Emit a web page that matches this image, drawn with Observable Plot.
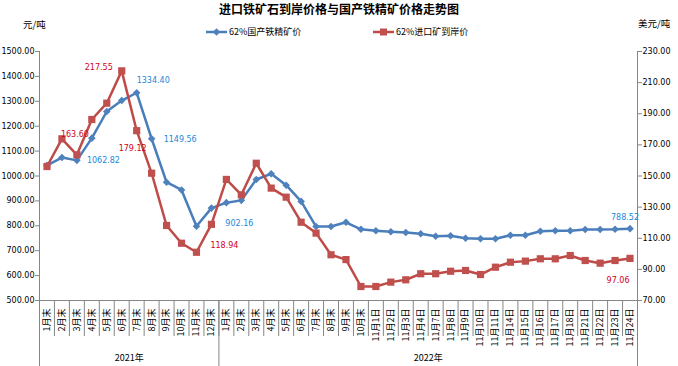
<!DOCTYPE html>
<html><head><meta charset="utf-8">
<script src="https://cdn.jsdelivr.net/npm/d3@7"></script>
<script src="https://cdn.jsdelivr.net/npm/@observablehq/plot@0.6"></script>
<style>
body{margin:0;background:#fff;}
#wrap{position:relative;width:678px;height:366px;overflow:hidden;font-family:"Noto Sans CJK SC",sans-serif;color:#000;}
#wrap svg.chart{position:absolute;left:0;top:0;}
.t{position:absolute;white-space:nowrap;line-height:1;}
</style></head><body><div id="wrap"></div>
<script>
// ---- data ----
const title = "进口铁矿石到岸价格与国产铁精矿价格走势图";
const leftUnit = "元/吨";
const rightUnit = "美元/吨";
const seriesNames = ["62%国产铁精矿价", "62%进口矿到岸价"];
const months2021 = ["1月末","2月末","3月末","4月末","5月末","6月末","7月末","8月末","9月末","10月末","11月末","12月末"];
const months2022 = ["1月末","2月末","3月末","4月末","5月末","6月末","7月末","8月末","9月末","10月末"];
const novDays2022 = ["11月1日","11月2日","11月3日","11月4日","11月7日","11月8日","11月9日","11月10日","11月11日","11月14日","11月15日","11月16日","11月17日","11月18日","11月21日","11月22日","11月23日","11月24日"];
const yearLabels = ["2021年","2022年"];
const categories = [...months2021, ...months2022, ...novDays2022];
const yearCounts = [months2021.length, months2022.length + novDays2022.length];
// 62% domestic concentrate, 元/吨 (left axis)
const domestic = [1043,1074,1062.82,1152,1259,1303,1334.40,1149.56,975,944,798,871,
  893,902.16,986,1009,963,898,797,797,814,786,
  780,776,773,768,758,760,750,748,748,762,762,778,780,780,785,785,786,788.52];
// 62% imported CIF, 美元/吨 (right axis)
const imported = [156.1,173.9,163.60,186.3,196.8,217.55,179.12,151.8,118.2,106.8,101,118.94,
  147.8,137.9,158.2,142.2,136.4,120.3,113.3,99.4,96.3,79.0,
  79.0,81.8,83.3,87.2,87.2,88.8,89.3,86.7,91.4,94.6,95.3,96.8,96.8,98.9,95.7,94.0,95.7,97.06];
const leftTicks = [500,600,700,800,900,1000,1100,1200,1300,1400,1500];
const rightTicks = [70,90,110,130,150,170,190,210,230];
// labelled points (category index)
const domesticLabelIdx = [2,6,7,13,39];
const importedLabelIdx = [2,5,6,11,39];

// ---- layout ----
const W = 678, H = 366, mT = 51, mB = 66, mL = 39, mR = 41;
const yMin = leftTicks[0], yMax = leftTicks[leftTicks.length-1];
const rMin = rightTicks[0], rMax = rightTicks[rightTicks.length-1];
const toLeft = v => yMin + (v - rMin) * (yMax - yMin) / (rMax - rMin);
const fromLeft = v => rMin + (v - yMin) * (rMax - rMin) / (yMax - yMin);
const pxPerUnit = (H - mT - mB) / (yMax - yMin);
const below = px => yMin - px / pxPerUnit;
const bw = (W - mL - mR) / categories.length;

const idx = d3.range(categories.length);
const rows = idx.map(i => ({i, dom: domestic[i], imp: toLeft(imported[i]), impRaw: imported[i]}));

const diamond = {draw(ctx, size){ const r = Math.sqrt(size/Math.PI); ctx.moveTo(0,-r); ctx.lineTo(r,0); ctx.lineTo(0,r); ctx.lineTo(-r,0); ctx.closePath(); }};
const square = {draw(ctx, size){ const r = Math.sqrt(size/Math.PI); ctx.rect(-r,-r,2*r,2*r); }};

const blueLine = "#4A7EBB", blueMark = "#4F81BD", blueText = "#1C87DA";
const redLine = "#BE4B48", redMark = "#C0504D", redText = "#D0021B";
const gray = "#868686";
const numFont = "DejaVu Sans, sans-serif";

// year boundaries
let acc = 0; const yearInfo = yearCounts.map((c, k) => { const s = acc; acc += c; return {k, start: s, end: s + c - 1, mid: s + c/2 - 1}; });

const blueLabelPos = {2:{dx:10,dy:0,a:"start"}, 6:{dx:0,dy:-12,a:"start"}, 7:{dx:12,dy:1,a:"start"}, 13:{dx:-2,dy:23,a:"middle"}, 39:{dx:-5,dy:-11,a:"middle"}};
const redLabelPos = {2:{dx:-2,dy:-20,a:"middle"}, 5:{dx:-9,dy:-3,a:"end"}, 6:{dx:-4,dy:18,a:"middle"}, 11:{dx:13,dy:21,a:"middle"}, 39:{dx:-12,dy:22,a:"middle"}};

const labelMarks = [];
for (const i of domesticLabelIdx) {
  const p = blueLabelPos[i];
  labelMarks.push(Plot.text([rows[i]], {x: "i", y: "dom", text: d => d.dom.toFixed(2), dx: p.dx, dy: p.dy, textAnchor: p.a, fill: blueText, fontSize: 8, fontFamily: numFont}));
}
for (const i of importedLabelIdx) {
  const p = redLabelPos[i];
  labelMarks.push(Plot.text([rows[i]], {x: "i", y: "imp", text: d => d.impRaw.toFixed(2), dx: p.dx, dy: p.dy, textAnchor: p.a, fill: redText, fontSize: 8, fontFamily: numFont}));
}

const chart = Plot.plot({
  width: W, height: H, marginTop: mT, marginBottom: mB, marginLeft: mL, marginRight: mR,
  style: {background: "transparent", fontFamily: numFont, fontSize: "8px", color: "#000", overflow: "visible"},
  x: {type: "band", domain: idx, padding: 0, align: 0.5, axis: null, label: null},
  y: {domain: [yMin, yMax], axis: null, label: null},
  marks: [
    // category separators below the axis
    Plot.ruleX(idx, {x: d => d, dx: bw/2, y1: yMin, y2: below(36), stroke: gray, strokeWidth: 1}),
    Plot.ruleX(yearInfo, {x: d => d.end, dx: bw/2, y1: yMin, y2: below(70), stroke: gray, strokeWidth: 1}),
    Plot.ruleX(yearInfo.slice(0,1), {x: d => d.start, dx: -bw/2, y1: yMin, y2: below(70), stroke: gray, strokeWidth: 1}),
    Plot.text(yearInfo, {x: d => d.mid, dx: bw/2, y: below(58), text: d => yearLabels[d.k], fontSize: 9, fontFamily: "Noto Sans CJK SC, sans-serif", fill: "#000"}),
    Plot.axisX({tickFormat: i => categories[i], tickRotate: -90, tickSize: 0, tickPadding: 8, label: null, fontSize: 9, fontFamily: "Noto Sans CJK SC, sans-serif", fill: "#000"}),
    Plot.axisY(leftTicks, {anchor: "left", tickFormat: d => d.toFixed(2), tickSize: 4, tickPadding: 1, label: null, stroke: gray, fill: "#000", fontSize: 8}),
    Plot.axisY(rightTicks.map(toLeft), {anchor: "right", tickFormat: d => fromLeft(d).toFixed(2), tickSize: 4, tickPadding: 1, label: null, stroke: gray, fill: "#000", fontSize: 8}),
    Plot.frame({anchor: "left", stroke: gray}),
    Plot.frame({anchor: "right", stroke: gray}),
    Plot.frame({anchor: "bottom", stroke: gray}),
    Plot.line(rows, {x: "i", y: "dom", stroke: blueLine, strokeWidth: 2.5, curve: "linear"}),
    Plot.line(rows, {x: "i", y: "imp", stroke: redLine, strokeWidth: 2.5, curve: "linear"}),
    Plot.dot(rows, {x: "i", y: "dom", symbol: diamond, r: 3.8, fill: blueMark, stroke: "none"}),
    Plot.dot(rows, {x: "i", y: "imp", symbol: square, r: 3.6, fill: redMark, stroke: "none"}),
    ...labelMarks
  ]
});
chart.classList.add("chart");
const wrap = document.getElementById("wrap");
wrap.appendChild(chart);

function addText(txt, left, top, css) {
  const d = document.createElement("div");
  d.className = "t"; d.textContent = txt; d.style.left = left + "px"; d.style.top = top + "px";
  Object.assign(d.style, css || {});
  wrap.appendChild(d);
  return d;
}
addText(title, 0, 3, {width: W + "px", textAlign: "center", fontSize: "12px", fontWeight: "bold"});
addText(leftUnit, 23, 20, {fontSize: "9.5px"});
addText(rightUnit, 638, 19, {fontSize: "9.5px"});

// legend
function legendItem(x, color, lineColor, sym, name) {
  const s = document.createElementNS("http://www.w3.org/2000/svg", "svg");
  s.setAttribute("width", 24); s.setAttribute("height", 10);
  s.style.position = "absolute"; s.style.left = x + "px"; s.style.top = "27px";
  const l = document.createElementNS(s.namespaceURI, "line");
  l.setAttribute("x1", 1); l.setAttribute("x2", 22); l.setAttribute("y1", 5); l.setAttribute("y2", 5);
  l.setAttribute("stroke", lineColor); l.setAttribute("stroke-width", 2.5);
  s.appendChild(l);
  const p = document.createElementNS(s.namespaceURI, "path");
  p.setAttribute("d", sym === "d" ? "M11.5,1.2L15.3,5L11.5,8.8L7.7,5Z" : "M8,1.5H15V8.5H8Z");
  p.setAttribute("fill", color);
  s.appendChild(p);
  wrap.appendChild(s);
  addText(name, x + 24, 27, {fontSize: "9px"});
}
legendItem(205, blueMark, blueLine, "d", seriesNames[0]);
legendItem(372, redMark, redLine, "s", seriesNames[1]);
</script></body></html>
